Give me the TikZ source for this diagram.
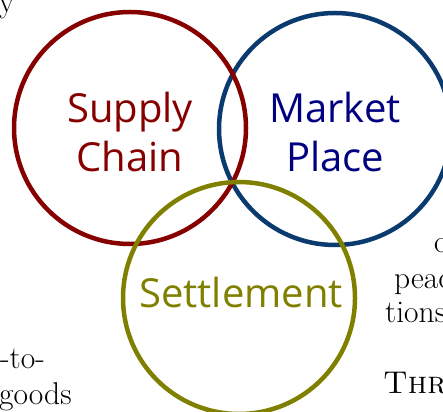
\documentclass[tikz,border=0pt]{standalone}
\usepackage{fontspec}
\newfontfamily\vennfont{Open Sans}
\definecolor{scred}{HTML}{860000}
\definecolor{mpring}{HTML}{0A3A6E}
\definecolor{mptext}{HTML}{000080}
\definecolor{stolive}{HTML}{808000}

\begin{document}
\begin{tikzpicture}[x=1pt,y=-1pt,
  ring/.style={draw, circle, line width=4.5pt, minimum size=232pt, inner sep=0pt},
  lbl/.style={font=\vennfont\fontsize{40}{48}\selectfont, anchor=base, inner sep=0pt},
  page/.style={font=\fontsize{31.5}{38}\selectfont, anchor=base west, inner sep=0pt}]
\useasboundingbox (0,0) rectangle (443,411);
\clip (0,0) rectangle (443,411);
% running text of the page around the figure
\node[page] (t1) at (-1,13) {y};
\node[page] (t2) at (0,368) {-to-};
\node[page] (t3) at (-1,404) {goods};
\node[page] (t4) at (434,252) {o};
\node[page] (t5) at (394,288) {peac};
\node[page] (t6) at (385,322) {tions};
\node[page] (t7) at (383,393) {\textsc{Thro}};
% the three rings
\node[ring, mpring] (2) at (335,129) {};
\node[ring, scred] (1) at (130,128) {};
\node[ring, stolive] (3) at (239,298) {};
\node[lbl, scred] (1a) at (130,123) {Supply};
\node[lbl, scred] (1b) at (130,172) {Chain};
\node[lbl, mptext] (2a) at (335,123) {Market};
\node[lbl, mptext] (2b) at (335,172) {Place};
\node[lbl, stolive] (3a) at (241,307) {Settlement};
\end{tikzpicture}
\end{document}
